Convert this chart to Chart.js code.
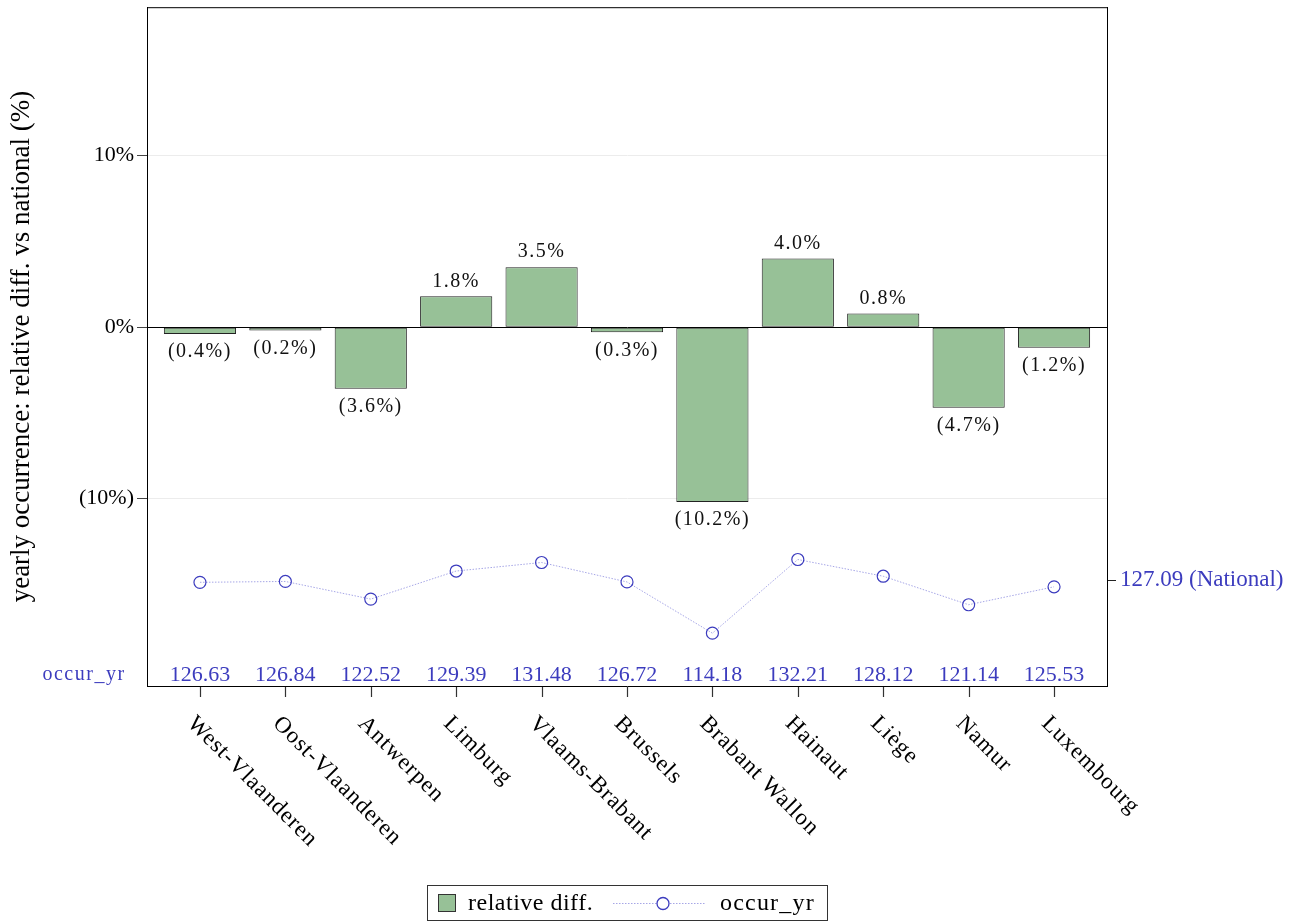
<!DOCTYPE html>
<html>
<head>
<meta charset="utf-8">
<script src="https://cdn.jsdelivr.net/npm/chart.js@4/dist/chart.umd.min.js"></script>
<style>
  html, body { margin: 0; padding: 0; background: #fff; }
  #wrap { width: 1291px; height: 924px; }
</style>
</head>
<body>
<div id="wrap"><canvas id="chart"></canvas></div>
<script>
const provinces = ['West-Vlaanderen', 'Oost-Vlaanderen', 'Antwerpen', 'Limburg', 'Vlaams-Brabant',
    'Brussels', 'Brabant Wallon', 'Hainaut', 'Liège', 'Namur', 'Luxembourg'];
const relDiff = [-0.4, -0.2, -3.6, 1.8, 3.5, -0.3, -10.2, 4.0, 0.8, -4.7, -1.2];
const occurYr = [126.63, 126.84, 122.52, 129.39, 131.48, 126.72, 114.18, 132.21, 128.12, 121.14, 125.53];
const nationalOccur = 127.09;
const pctTicks = [-10, 0, 10];

const SERIF = '"Liberation Serif", "DejaVu Serif", serif';
const BLUE = '#3c3cbe';
const GREEN = '#97c197';

const fmtPct = v => v < 0 ? '(' + Math.abs(v).toFixed(1) + '%)' : v.toFixed(1) + '%';

// extra drawing: frame, x ticks, value labels, rotated category labels, legend
const extras = {
    id: 'extras',
    afterDraw(chart) {
        const { ctx, chartArea: a, scales } = chart;
        const x = scales.x, y = scales.y;
        ctx.save();
        // frame top
        ctx.strokeStyle = '#000';
        ctx.lineWidth = 1;
        ctx.beginPath();
        ctx.moveTo(a.left, a.top + 0.5);
        ctx.lineTo(a.right, a.top + 0.5);
        ctx.stroke();

        // x tick marks under the axis
        ctx.strokeStyle = '#333';
        ctx.lineWidth = 1.2;
        ctx.beginPath();
        provinces.forEach((p, i) => {
            const px = Math.round(x.getPixelForValue(i)) + 0.5;
            ctx.moveTo(px, a.bottom + 1);
            ctx.lineTo(px, a.bottom + 11);
        });
        ctx.stroke();
        ctx.lineWidth = 1;

        // bar value labels
        ctx.letterSpacing = '1.5px';
        ctx.font = '20px ' + SERIF;
        ctx.fillStyle = '#111';
        ctx.textAlign = 'center';
        relDiff.forEach((v, i) => {
            const px = x.getPixelForValue(i);
            const py = y.getPixelForValue(v);
            if (v >= 0) {
                ctx.textBaseline = 'bottom';
                ctx.fillText(fmtPct(v), px, py - 5);
            } else {
                ctx.textBaseline = 'top';
                ctx.fillText(fmtPct(v), px, py + 8);
            }
        });

        // occur_yr numbers along the bottom
        ctx.letterSpacing = '0px';
        ctx.font = '22px ' + SERIF;
        ctx.fillStyle = BLUE;
        ctx.textBaseline = 'middle';
        occurYr.forEach((v, i) => {
            ctx.fillText(v.toFixed(2), x.getPixelForValue(i), a.bottom - 11);
        });
        ctx.letterSpacing = '1.5px';
        ctx.font = '20px ' + SERIF;
        ctx.fillText('occur_yr', 84, a.bottom - 11);

        // rotated category labels
        ctx.font = '23px ' + SERIF;
        ctx.letterSpacing = '1px';
        ctx.fillStyle = '#000';
        ctx.textAlign = 'left';
        ctx.textBaseline = 'top';
        provinces.forEach((p, i) => {
            const px = x.getPixelForValue(i);
            ctx.save();
            ctx.translate(px - 1, a.bottom + 26);
            ctx.rotate(Math.PI / 4);
            ctx.fillText(p, 0, 0);
            ctx.restore();
        });

        // legend
        const lx = 427, ly = 885, lw = 400, lh = 35;
        ctx.letterSpacing = '0.5px';
        ctx.strokeStyle = '#333';
        ctx.strokeRect(lx + 0.5, ly + 0.5, lw, lh);
        ctx.fillStyle = GREEN;
        ctx.fillRect(438, 894, 17, 17);
        ctx.strokeRect(438.5, 894.5, 17, 17);
        ctx.font = '24px ' + SERIF;
        ctx.fillStyle = '#000';
        ctx.textBaseline = 'middle';
        ctx.fillText('relative diff.', 468, ly + lh / 2 + 1);
        ctx.strokeStyle = '#a6a6e6';
        ctx.setLineDash([1.5, 1.5]);
        ctx.beginPath();
        ctx.moveTo(613, 903.5);
        ctx.lineTo(706, 903.5);
        ctx.stroke();
        ctx.setLineDash([]);
        ctx.fillStyle = '#fff';
        ctx.strokeStyle = BLUE;
        ctx.lineWidth = 1.3;
        ctx.beginPath();
        ctx.arc(663, 903.5, 6, 0, Math.PI * 2);
        ctx.fill();
        ctx.stroke();
        ctx.fillStyle = '#000';
        ctx.letterSpacing = '1.2px';
        ctx.fillText('occur_yr', 720, ly + lh / 2 + 1);
        ctx.restore();
    }
};

const noPad = scale => { scale.paddingTop = 0; scale.paddingBottom = 0; };
const idx = provinces.map((p, i) => i);

new Chart(document.getElementById('chart'), {
    data: {
        datasets: [
            {
                type: 'line',
                label: 'occur_yr',
                data: idx.map(i => ({ x: i, y: occurYr[i] })),
                yAxisID: 'y2',
                borderColor: '#a6a6e6',
                borderWidth: 1,
                borderDash: [1.5, 1.5],
                pointRadius: 6,
                pointBorderColor: BLUE,
                pointBackgroundColor: 'rgba(255,255,255,0)',
                pointBorderWidth: 1.2,
                tension: 0,
                order: 0
            },
            {
                type: 'bar',
                label: 'relative diff.',
                data: idx.map(i => ({ x: i, y: relDiff[i] })),
                yAxisID: 'y',
                backgroundColor: GREEN,
                borderColor: '#222',
                borderWidth: 1,
                borderSkipped: false,
                categoryPercentage: 1,
                barPercentage: 0.845,
                order: 1
            }
        ]
    },
    options: {
        responsive: true,
        maintainAspectRatio: false,
        animation: false,
        layout: { padding: { top: 0, left: 0, right: 0, bottom: 0 } },
        plugins: {
            legend: { display: false },
            tooltip: { enabled: false }
        },
        scales: {
            x: {
                type: 'linear',
                min: -0.62,
                max: 10.62,
                offset: false,
                afterBuildTicks(scale) { scale.ticks = idx.map(i => ({ value: i })); },
                grid: { display: false },
                border: { display: true, color: '#000', width: 1 },
                ticks: { display: false },
                afterFit(scale) { scale.height = 238; scale.paddingLeft = 0; scale.paddingRight = 0; }
            },
            y: {
                position: 'left',
                min: -20.93,
                max: 18.66,
                afterBuildTicks(scale) { scale.ticks = pctTicks.map(v => ({ value: v })); },
                grid: {
                    color: c => c.tick && c.tick.value === 0 ? '#000' : '#ececec',
                    tickColor: '#444',
                    tickLength: 10
                },
                border: { display: true, color: '#000', width: 1 },
                ticks: {
                    font: { family: SERIF, size: 22 },
                    color: '#000',
                    padding: 3,
                    callback: v => v < 0 ? '(' + Math.abs(v) + '%)' : v + '%'
                },
                title: {
                    display: true,
                    text: 'yearly occurrence: relative diff. vs national (%)',
                    font: { family: SERIF, size: 27 },
                    color: '#000',
                    padding: { top: 6, bottom: 0 }
                },
                afterFit(scale) { scale.width = 147; noPad(scale); }
            },
            y2: {
                position: 'right',
                min: 101.25,
                max: 267.4,
                afterBuildTicks(scale) { scale.ticks = [{ value: nationalOccur }]; },
                grid: { drawOnChartArea: false, tickLength: 9, tickColor: '#222' },
                border: { display: true, color: '#000', width: 1 },
                ticks: {
                    font: { family: SERIF, size: 23 },
                    color: BLUE,
                    padding: 4,
                    callback: v => v.toFixed(2) + ' (National)'
                },
                afterFit(scale) { scale.width = 184; noPad(scale); }
            }
        }
    },
    plugins: [extras]
});
</script>
</body>
</html>
